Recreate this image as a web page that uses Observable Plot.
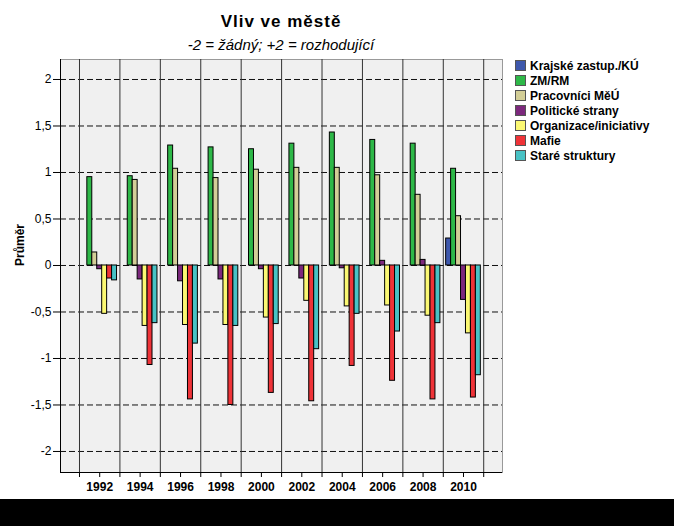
<!DOCTYPE html>
<html>
<head>
<meta charset="utf-8">
<script src="https://cdn.jsdelivr.net/npm/d3@7"></script>
<script src="https://cdn.jsdelivr.net/npm/@observablehq/plot@0.6"></script>
<style>
  body { margin: 0; background: #fff; font-family: "Liberation Sans", Arial, sans-serif; }
  #wrap { position: relative; width: 674px; height: 526px; overflow: hidden; background: #fff; }
  #chart { position: absolute; left: 0; top: 0; }
  .title { position: absolute; left: 60px; width: 442px; text-align: center; color: #000; white-space: nowrap; }
  #t1 { top: 12.5px; font-size: 17px; line-height: 17px; font-weight: bold; letter-spacing: 1px; }
  #t2 { top: 37px; font-size: 15px; line-height: 15px; font-style: italic; }
  #legend { position: absolute; left: 515px; top: 58px; }
  .item { display: flex; align-items: center; height: 15px; font-size: 12px; font-weight: bold; color: #000; white-space: nowrap; }
  .sw { width: 9px; height: 9px; border: 1px solid #555; margin-right: 4px; flex: none; }
  #band { position: absolute; left: 0; top: 499px; width: 674px; height: 27px; background: #000; }
</style>
</head>
<body>
<div id="wrap">
  <div id="chart"></div>
  <div class="title" id="t1"></div>
  <div class="title" id="t2"></div>
  <div id="legend"></div>
  <div id="band"></div>
</div>
<script>
const titleText = "Vliv ve městě";
const subtitleText = "-2 = žádný; +2 = rozhodující";
const yLabel = "Průměr";

const years = [1992, 1994, 1996, 1998, 2000, 2002, 2004, 2006, 2008, 2010];
const series = ["Krajské zastup./KÚ", "ZM/RM", "Pracovníci MěÚ", "Politické strany", "Organizace/iniciativy", "Mafie", "Staré struktury"];
const colors = ["#3E58AC", "#2EB848", "#D3CE97", "#7C287D", "#FBF873", "#EF3338", "#48C2C5"];

const krajske   = [null, null, null, null, null, null, null, null, null, 0.29];
const zmrm      = [0.95, 0.96, 1.29, 1.27, 1.25, 1.31, 1.43, 1.35, 1.31, 1.04];
const pracovnici= [0.14, 0.92, 1.04, 0.94, 1.03, 1.05, 1.05, 0.97, 0.76, 0.53];
const politicke = [-0.04, -0.15, -0.17, -0.15, -0.04, -0.14, -0.03, 0.05, 0.06, -0.37];
const organizace= [-0.52, -0.65, -0.64, -0.64, -0.56, -0.38, -0.44, -0.43, -0.54, -0.73];
const mafie     = [-0.14, -1.07, -1.44, -1.50, -1.37, -1.46, -1.08, -1.24, -1.44, -1.42];
const stare     = [-0.16, -0.62, -0.84, -0.65, -0.63, -0.90, -0.52, -0.71, -0.62, -1.18];

const yTicks = [-2, -1.5, -1, -0.5, 0, 0.5, 1, 1.5, 2];
const xTickYears = d3.range(1991, 2012);
const groupEdges = d3.range(1991, 2012, 2);

const valuesBySeries = [krajske, zmrm, pracovnici, politicke, organizace, mafie, stare];

// table built from the arrays
const data = [];
series.forEach((s, i) => {
  years.forEach((y, j) => {
    const v = valuesBySeries[i][j];
    if (v != null) data.push({series: s, index: i, year: y, value: v});
  });
});

const slot = 0.245; // bar width in years
const xDomain = [1990.06, 2011.93];
const yDomain = [-2.226, 2.215];

const fmt = d => String(d).replace(".", ",");

const chart = Plot.plot({
  width: 674,
  height: 499,
  marginLeft: 60,
  marginRight: 172,
  marginTop: 59,
  marginBottom: 27,
  style: {fontFamily: "'Liberation Sans', Arial, sans-serif", fontSize: "12px", color: "#000", background: "transparent"},
  x: {type: "linear", domain: xDomain, axis: null},
  y: {domain: yDomain, axis: null},
  color: {domain: series, range: colors},
  marks: [
    Plot.frame({fill: "#F0F0F0", stroke: "#999"}),
    Plot.ruleY(yTicks, {stroke: "#111", strokeDasharray: "6,3"}),
    Plot.ruleX(groupEdges, {stroke: "#333"}),
    Plot.rect(data, {
      x1: d => d.year + (d.index - 3.5) * slot,
      x2: d => d.year + (d.index - 2.5) * slot,
      y1: d => 0,
      y2: "value",
      fill: "series",
      stroke: "#000",
      strokeWidth: 1
    }),
    Plot.ruleX([xDomain[0]], {stroke: "#000"}),
    Plot.ruleY([yDomain[0]], {stroke: "#000"}),
    Plot.axisY(yTicks, {tickSize: 7, tickPadding: 2, tickFormat: fmt, fontSize: 12, label: null}),
    Plot.axisX(xTickYears, {tickSize: 5, tickPadding: 5, tickFormat: d => d % 2 === 0 ? String(d) : "", fontSize: 12, fontWeight: "bold", label: null}),
    Plot.text([yLabel], {frameAnchor: "left", dx: -40, rotate: -90, text: d => d, fontSize: 12, fontWeight: "bold"})
  ]
});
document.getElementById("chart").appendChild(chart);

document.getElementById("t1").textContent = titleText;
document.getElementById("t2").textContent = subtitleText;

const legend = document.getElementById("legend");
series.forEach((s, i) => {
  const row = document.createElement("div");
  row.className = "item";
  const sw = document.createElement("span");
  sw.className = "sw";
  sw.style.background = colors[i];
  row.appendChild(sw);
  row.appendChild(document.createTextNode(s));
  legend.appendChild(row);
});
</script>
</body>
</html>
